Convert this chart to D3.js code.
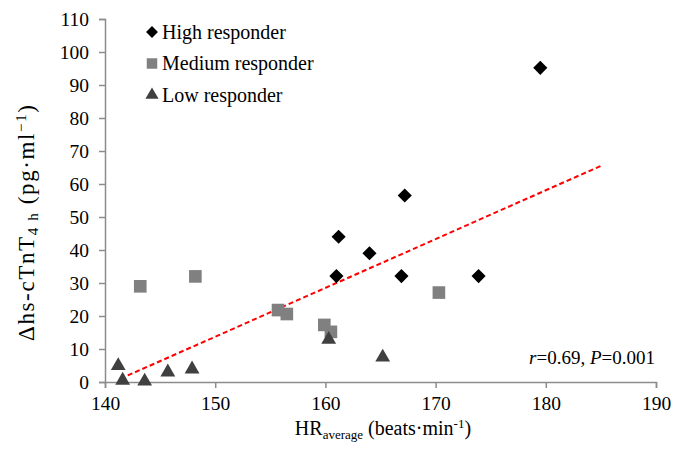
<!DOCTYPE html>
<html>
<head>
<meta charset="utf-8">
<script src="https://cdn.jsdelivr.net/npm/d3@7"></script>
<style>
  body { margin: 0; background: #fff; }
</style>
</head>
<body>
<script>
// values
const highX = [179.5, 167.2, 161.2, 164.0, 161.0, 166.9, 173.9];
const highY = [95.2, 56.5, 44.0, 39.0, 32.1, 32.1, 32.1];
const medX = [143.2, 148.2, 155.7, 156.5, 159.9, 160.5, 170.3];
const medY = [29.0, 32.0, 21.8, 20.6, 17.3, 15.2, 27.1];
const lowX = [141.2, 141.6, 143.6, 145.7, 147.9, 160.3, 165.2];
const lowY = [4.9, 0.5, 0.2, 3.0, 3.9, 12.9, 7.5];
const trendX = [141.4, 185];
const trendY = [1, 65.5];
const xTicks = [140, 150, 160, 170, 180, 190];
const yTicks = [0, 10, 20, 30, 40, 50, 60, 70, 80, 90, 100, 110];
const legendNames = ["High responder", "Medium responder", "Low responder"];

const serif = "Liberation Serif";
const width = 689, height = 452;
const svg = d3.select("body").append("svg")
    .attr("width", width).attr("height", height)
    .attr("font-family", serif);

const x = d3.scaleLinear().domain([140, 190]).range([105, 656]);
const y = d3.scaleLinear().domain([0, 110]).range([382, 19]);

// axes
const xAxis = svg.append("g")
    .attr("transform", "translate(0," + y(0) + ")")
    .call(d3.axisBottom(x).tickValues(xTicks).tickSize(6).tickPadding(8));
const yAxis = svg.append("g")
    .attr("transform", "translate(" + x(140) + ",0)")
    .call(d3.axisLeft(y).tickValues(yTicks).tickSize(6).tickPadding(10));

for (let ax of [xAxis, yAxis]) {
    ax.attr("font-family", serif).attr("font-size", 19.5);
    ax.select(".domain").attr("stroke", "#8c8c8c").attr("stroke-width", 1.5);
    ax.selectAll(".tick line").attr("stroke", "#8c8c8c").attr("stroke-width", 1.5);
    ax.selectAll(".tick text").attr("fill", "#000");
}

// trend line
svg.append("line")
    .attr("x1", x(trendX[0])).attr("y1", y(trendY[0]))
    .attr("x2", x(trendX[1])).attr("y2", y(trendY[1]))
    .attr("stroke", "#ff0000").attr("stroke-width", 2)
    .attr("stroke-dasharray", "5,3");

const series = [
    { xs: medX, ys: medY, shape: d3.symbolSquare, size: 160, rot: 0, color: "#808080" },
    { xs: lowX, ys: lowY, shape: d3.symbolTriangle, size: 95, rot: 0, color: "#404040" },
    { xs: highX, ys: highY, shape: d3.symbolSquare, size: 100, rot: 45, color: "#000000" }
];

for (let s of series) {
    let pts = s.xs.map((v, i) => [v, s.ys[i]]);
    svg.append("g").selectAll("path").data(pts).join("path")
        .attr("d", d3.symbol().type(s.shape).size(s.size))
        .attr("transform", d => "translate(" + x(d[0]) + "," + y(d[1]) + ") rotate(" + s.rot + ")")
        .attr("fill", s.color);
}

// legend
const legendSeries = [series[2], series[0], series[1]];
const legendSizes = [70, 110, 75];
legendNames.forEach((name, i) => {
    let s = legendSeries[i];
    let ly = 32 + i * 31.5;
    svg.append("path")
        .attr("d", d3.symbol().type(s.shape).size(legendSizes[i]))
        .attr("transform", "translate(152," + ly + ") rotate(" + s.rot + ")")
        .attr("fill", s.color);
    svg.append("text")
        .attr("x", 162).attr("y", ly + 6.5)
        .attr("font-size", 20)
        .text(name);
});

// correlation note
const note = svg.append("text")
    .attr("x", 655).attr("y", 364)
    .attr("text-anchor", "end")
    .attr("font-size", 19);
note.append("tspan").attr("font-style", "italic").text("r");
note.append("tspan").text("=0.69, ");
note.append("tspan").attr("font-style", "italic").text("P");
note.append("tspan").text("=0.001");

// x title
const xt = svg.append("text")
    .attr("x", 383).attr("y", 435)
    .attr("text-anchor", "middle")
    .attr("font-size", 20);
xt.append("tspan").text("HR");
xt.append("tspan").attr("dy", 4).attr("font-size", 13).text("average");
xt.append("tspan").attr("dy", -4).text(" (beats·min");
xt.append("tspan").attr("dy", -7).attr("font-size", 13).text("-1");
xt.append("tspan").attr("dy", 7).text(")");

// y title
const yt = svg.append("text")
    .attr("transform", "translate(34,223) rotate(-90)")
    .attr("text-anchor", "middle")
    .attr("font-size", 23)
    .attr("textLength", 236)
    .attr("lengthAdjust", "spacing");
yt.append("tspan").text("Δhs-cTnT");
yt.append("tspan").attr("dy", 4).attr("font-size", 15).text("4 h");
yt.append("tspan").attr("dy", -4).text(" (pg·ml");
yt.append("tspan").attr("dy", -8).attr("font-size", 15).text("−1");
yt.append("tspan").attr("dy", 8).text(")");
</script>
</body>
</html>
